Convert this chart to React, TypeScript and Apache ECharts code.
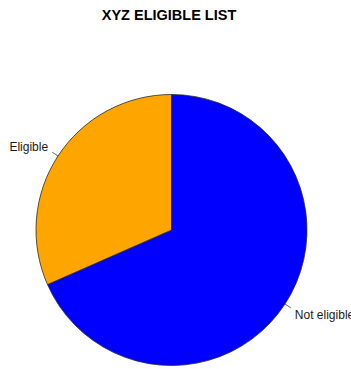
import React, { useEffect, useRef } from "react";
import * as echarts from "echarts";

const categories = ["Not eligible", "Eligible"];
const values = [68.4, 31.6];
const colors = ["#0000FF", "#FFA500"];
const titleText = "XYZ ELIGIBLE LIST";

export default function App() {
  const ref = useRef<HTMLDivElement>(null);
  useEffect(() => {
    if (!ref.current) return;
    const chart = echarts.init(ref.current, undefined, { renderer: "svg" });
    const labelShiftY = [7, -5];
    chart.setOption({
      animation: false,
      backgroundColor: "#ffffff",
      title: {
        text: titleText,
        left: 169,
        textAlign: "center",
        top: 7,
        padding: 0,
        textStyle: {
          fontFamily: "Liberation Sans, Arial, sans-serif",
          fontSize: 14.5,
          fontWeight: "bold",
          color: "#000",
        },
      },
      series: [
        {
          type: "pie",
          center: [171.5, 230],
          radius: 135.5,
          startAngle: 90,
          clockwise: true,
          avoidLabelOverlap: false,
          itemStyle: { borderColor: "#2a2a2a", borderWidth: 0.8 },
          label: {
            show: true,
            position: "outside",
            fontFamily: "Liberation Sans, Arial, sans-serif",
            fontSize: 12,
            color: "#1a1a1a",
            distanceToLabelLine: 4,
          },
          labelLine: {
            show: true,
            length: 7,
            length2: 0,
            lineStyle: { color: "#444", width: 0.8 },
          },
          labelLayout: (params: any) => ({ dy: labelShiftY[params.dataIndex] }),
          data: categories.map((c, i) => ({
            name: c,
            value: values[i],
            itemStyle: { color: colors[i] },
          })),
        },
      ],
    });
    return () => chart.dispose();
  }, []);
  return (
    <div
      ref={ref}
      style={{ position: "fixed", left: 0, top: 0, width: 351, height: 369 }}
    />
  );
}
